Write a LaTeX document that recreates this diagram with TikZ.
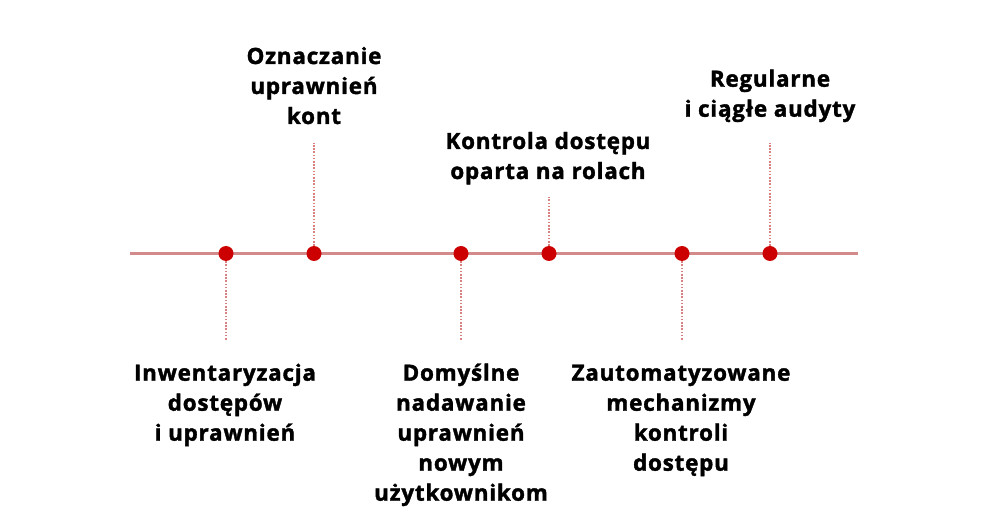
\documentclass[tikz,border=0pt]{standalone}
\usepackage{fontspec}
\IfFontExistsTF{Open Sans ExtraBold}
  {\setmainfont{Open Sans}[BoldFont={Open Sans ExtraBold}]}
  {\setmainfont{Open Sans}[BoldFont={Open Sans Bold},BoldFeatures={FakeBold=1.6,LetterSpace=3.5}]}
\definecolor{axisred}{HTML}{D38A8A}
\definecolor{dotred}{HTML}{CC0000}
\definecolor{tickred}{HTML}{D98080}
\tikzset{
  milestone/.style={circle,fill=dotred,draw=none,minimum size=15pt,inner sep=0pt},
  tickline/.style={draw=tickred,line width=1.6pt,dash pattern=on 1.6pt off 1.6pt},
  mainline/.style={draw=axisred,line width=2.2pt},
  lbl/.style={align=center,anchor=base,inner sep=0pt,font=\fontsize{22.4}{30}\selectfont\bfseries}
}
\begin{document}
\begin{tikzpicture}[x=1pt,y=-1pt]
\useasboundingbox[fill=white] (0,0) rectangle (983,521);
\coordinate (L) at (130,253.5);
\coordinate (R) at (858,253.5);
\draw[mainline] (L) -- (R);
\node[milestone] (d1) at (226,253.5) {};
\node[milestone] (d2) at (314,253.5) {};
\node[milestone] (d3) at (461,253.5) {};
\node[milestone] (d4) at (549,253.5) {};
\node[milestone] (d5) at (682,253.5) {};
\node[milestone] (d6) at (770,253.5) {};
\coordinate (e1) at (226,341);
\coordinate (e2) at (314,143);
\coordinate (e3) at (461,341);
\coordinate (e4) at (549,197);
\coordinate (e5) at (682,341);
\coordinate (e6) at (770,143);
\draw[tickline] (d1) -- (e1);
\draw[tickline] (d2) -- (e2);
\draw[tickline] (d3) -- (e3);
\draw[tickline] (d4) -- (e4);
\draw[tickline] (d5) -- (e5);
\draw[tickline] (d6) -- (e6);
\node[lbl] (t2) at (314,124) {Oznaczanie\\uprawnień\\kont};
\node[lbl] (t4) at (548,179) {Kontrola dostępu\\oparta na rolach};
\node[lbl] (t6) at (770,116.7) {Regularne\\i ciągłe audyty};
\node[lbl] (t1) at (225,440.7) {Inwentaryzacja\\dostępów\\i uprawnień};
\node[lbl] (t3) at (461,500.7) {Domyślne\\nadawanie\\uprawnień\\nowym\\użytkownikom};
\node[lbl] (t5) at (681,470.7) {Zautomatyzowane\\mechanizmy\\kontroli\\dostępu};
\end{tikzpicture}
\end{document}
